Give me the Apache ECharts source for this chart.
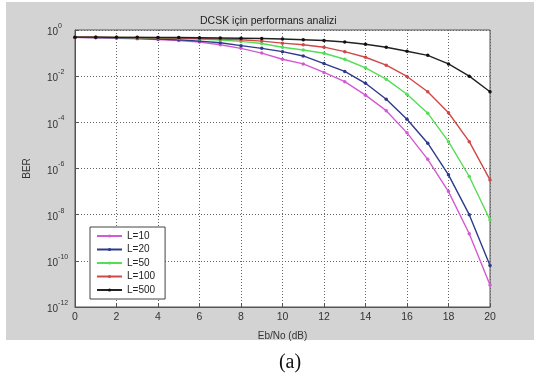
<!DOCTYPE html>
<html>
<head>
<meta charset="utf-8">
<script src="https://cdn.jsdelivr.net/npm/echarts@6/dist/echarts.min.js"></script>
<style>
  html, body {margin: 0; padding: 0; background: #fff;}
  #chart {width: 534px; height: 378px;}
</style>
</head>
<body>
<div id="chart"></div>
<script>
// Eb/No (dB)
const ebno = [0, 1, 2, 3, 4, 5, 6, 7, 8, 9, 10, 11, 12, 13, 14, 15, 16, 17, 18, 19, 20];

// BER
const berL10 = [0.48, 0.46, 0.44, 0.42, 0.39, 0.35, 0.3, 0.23, 0.16, 0.1, 0.054, 0.034, 0.0145, 0.0058, 0.0015, 3.2e-4, 3.5e-5, 2.5e-6, 1e-7, 1.5e-9, 9e-12];
const berL20 = [0.48, 0.47, 0.46, 0.44, 0.41, 0.38, 0.33, 0.28, 0.21, 0.16, 0.115, 0.075, 0.035, 0.016, 0.0049, 0.001, 1.35e-4, 1.25e-5, 5.3e-7, 1e-8, 6.3e-11];
const berL50 = [0.49, 0.48, 0.47, 0.46, 0.45, 0.43, 0.41, 0.37, 0.32, 0.26, 0.18, 0.136, 0.098, 0.054, 0.023, 0.0074, 0.00165, 2.5e-4, 1.45e-5, 4.5e-7, 5.9e-9];
const berL100 = [0.49, 0.49, 0.48, 0.47, 0.46, 0.45, 0.43, 0.41, 0.38, 0.33, 0.27, 0.23, 0.18, 0.115, 0.066, 0.03, 0.0097, 0.0021, 2.6e-4, 1.45e-5, 3.2e-7];
const berL500 = [0.49, 0.49, 0.48, 0.48, 0.47, 0.47, 0.46, 0.45, 0.44, 0.43, 0.41, 0.38, 0.35, 0.3, 0.24, 0.18, 0.12, 0.08, 0.034, 0.01, 0.0021];

const seriesNames = ['L=10', 'L=20', 'L=50', 'L=100', 'L=500'];
const seriesColors = ['#d45ad4', '#2e3a8c', '#55dd55', '#d04848', '#222222'];
const seriesData = [berL10, berL20, berL50, berL100, berL500];

const font = 'Liberation Sans, Arial, sans-serif';

const chart = echarts.init(document.getElementById('chart'));
chart.setOption({
  backgroundColor: '#d3d3d3',
  animation: false,
  title: {
    text: 'DCSK için performans analizi',
    left: 195,
    top: 11,
    textStyle: {fontFamily: font, fontSize: 10.5, fontWeight: 'normal', color: '#222'}
  },
  graphic: [
    {type: 'rect', shape: {x: 0, y: 340, width: 534, height: 38}, style: {fill: '#fff'}},
    {type: 'rect', shape: {x: 0, y: 0, width: 6, height: 340}, style: {fill: '#fff'}},
    {type: 'rect', shape: {x: 0, y: 0, width: 534, height: 2}, style: {fill: '#fff'}},
    {
      type: 'text', x: 290, y: 363,
      style: {text: '(a)', font: '20px Liberation Serif, DejaVu Serif, serif', fill: '#111', textAlign: 'center', textVerticalAlign: 'middle'}
    }
  ],
  grid: {
    left: 75, top: 30, right: 44, bottom: 71,
    show: true, backgroundColor: '#fff', borderColor: '#555', borderWidth: 1
  },
  legend: {
    orient: 'vertical',
    left: 90,
    top: 227,
    padding: [3, 10, 3, 6],
    itemWidth: 25,
    itemHeight: 4,
    itemGap: 1.5,
    backgroundColor: '#fff',
    borderColor: '#444',
    borderWidth: 1,
    borderRadius: 0,
    textStyle: {fontFamily: font, fontSize: 10, color: '#222', lineHeight: 12},
    data: seriesNames
  },
  xAxis: {
    type: 'value',
    min: 0, max: 20, interval: 2,
    name: 'Eb/No (dB)',
    nameLocation: 'middle',
    nameGap: 24,
    nameTextStyle: {fontFamily: font, fontSize: 10, color: '#333'},
    axisLine: {show: true, lineStyle: {color: '#555'}},
    axisTick: {show: true, inside: true, length: 4, lineStyle: {color: '#555'}},
    axisLabel: {fontFamily: font, fontSize: 10.5, color: '#333', margin: 5},
    splitLine: {show: true, lineStyle: {color: '#666', type: [1, 2]}}
  },
  yAxis: {
    type: 'log',
    logBase: 10,
    min: 1e-12, max: 1,
    interval: 2,
    name: 'BER',
    nameLocation: 'middle',
    nameGap: 43,
    nameTextStyle: {fontFamily: font, fontSize: 10, color: '#333'},
    axisLine: {show: true, lineStyle: {color: '#555'}},
    axisTick: {show: true, inside: true, length: 4, lineStyle: {color: '#555'}},
    axisLabel: {
      align: 'left',
      margin: 28,
      color: '#333',
      formatter: function (v) {
        const e = Math.round(Math.log10(v));
        return '{b|10}{s|' + e + '}';
      },
      rich: {
        b: {fontFamily: font, fontSize: 10, color: '#333', verticalAlign: 'bottom', lineHeight: 15},
        s: {fontFamily: font, fontSize: 7, color: '#333', verticalAlign: 'top', lineHeight: 15}
      }
    },
    splitLine: {show: true, lineStyle: {color: '#666', type: [1, 2]}}
  },
  series: seriesData.map(function (d, i) {
    return {
      name: seriesNames[i],
      type: 'line',
      data: ebno.map(function (x, j) { return [x, d[j]]; }),
      symbol: 'circle',
      symbolSize: 3.5,
      smooth: false,
      lineStyle: {width: 1.4, color: seriesColors[i]},
      itemStyle: {color: i === 4 ? '#111' : seriesColors[i]},
      z: 2 + i
    };
  })
});
</script>
</body>
</html>
